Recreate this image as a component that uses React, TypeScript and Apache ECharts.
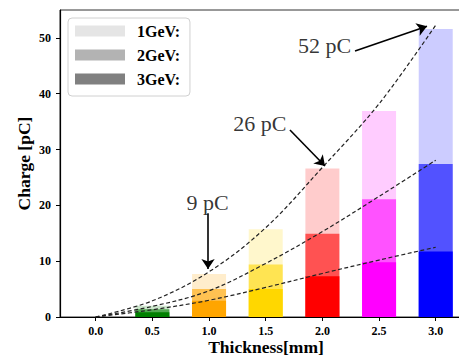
import React, { useEffect, useRef } from "react";
import * as echarts from "echarts";

const thickness = [0.5, 1.0, 1.5, 2.0, 2.5, 3.0];
const charge1GeV = [2.0, 7.7, 15.7, 26.6, 36.9, 51.6];
const charge2GeV = [1.4, 5.0, 9.4, 14.9, 21.1, 27.4];
const charge3GeV = [0.85, 2.9, 5.0, 7.3, 9.8, 11.75];
const barColors = ["#008000", "#ffa500", "#ffd700", "#ff0000", "#ff00ff", "#0000ff"];

const fitX = [0, 0.5, 1.0, 1.5, 2.0, 2.5, 3.0];
const fit1GeV = [0, 2.9, 8.1, 16.0, 26.8, 38.2, 52.3];
const fit2GeV = [0, 1.9, 4.7, 9.6, 15.3, 21.6, 28.1];
const fit3GeV = [0, 1.3, 3.0, 5.3, 7.8, 10.2, 12.5];

const xTicks = [0, 0.5, 1.0, 1.5, 2.0, 2.5, 3.0];
const yTicks = [0, 10, 20, 30, 40, 50];

const annotationTexts = ["9 pC", "26 pC", "52 pC"];
const annotationTextPos = [
  [0.987, 20.6],
  [1.449, 34.75],
  [2.019, 48.7],
];
const arrowStart = [
  [0.991, 18.6],
  [1.714, 33.5],
  [2.288, 47.65],
];
const arrowEnd = [
  [0.991, 8.6],
  [2.023, 27.05],
  [2.923, 52.1],
];

const seriesNames = ["1GeV:", "2GeV:", "3GeV:"];
const legendGrays = ["#e5e5e5", "#b3b3b3", "#808080"];
const opacities = [0.2, 0.6, 1.0];

const SERIF = "Liberation Serif, Times New Roman, serif";

export default function App() {
  const ref = useRef<HTMLDivElement>(null);
  useEffect(() => {
    if (!ref.current) return;
    const chart = echarts.init(ref.current, undefined, { renderer: "svg" });
    const barValues = [charge1GeV, charge2GeV, charge3GeV];
    const bars = barValues.map((vals, si) => ({
      type: "bar",
      name: seriesNames[si],
      barWidth: 34,
      barGap: "-100%",
      silent: true,
      z: 2,
      itemStyle: { color: legendGrays[si] },
      data: vals.map((v, i) => ({
        value: [thickness[i], v],
        itemStyle: { color: barColors[i], opacity: opacities[si] },
      })),
    }));
    const fits = [fit1GeV, fit2GeV, fit3GeV].map((vals) => ({
      type: "line",
      smooth: 0.35,
      symbol: "none",
      silent: true,
      z: 5,
      lineStyle: { color: "#222", width: 1.2, type: [4, 2.5] },
      data: vals.map((v, i) => [fitX[i], v]),
    }));
    chart.setOption({
      animation: false,
      grid: {
        left: 60,
        right: -13,
        top: 10,
        bottom: 41,
        outerBoundsMode: "none",
        containLabel: false,
        show: true,
        borderColor: "#333",
        borderWidth: 1,
        backgroundColor: "transparent",
      },
      legend: {
        orient: "vertical",
        left: 68,
        top: 18,
        icon: "rect",
        itemWidth: 50,
        itemHeight: 11,
        itemGap: 8,
        padding: [5, 10, 9, 7],
        borderColor: "#d0d0d0",
        borderWidth: 1,
        borderRadius: 4,
        backgroundColor: "#ffffff",
        selectedMode: false,
        textStyle: {
          fontFamily: SERIF,
          fontWeight: "bold",
          fontSize: 16,
          lineHeight: 16,
          color: "#000",
          padding: [0, 0, 0, 7],
        },
        data: seriesNames.map((n, i) => ({
          name: n,
          itemStyle: { color: legendGrays[i], opacity: 1 },
        })),
      },
      xAxis: {
        type: "value",
        min: -0.315,
        max: 3.32,
        name: "Thickness[mm]",
        nameLocation: "middle",
        nameGap: 21,
        nameMoveOverlap: false,
        nameTextStyle: { fontFamily: SERIF, fontWeight: "bold", fontSize: 17.5, color: "#000" },
        axisLine: { show: true, onZero: false, lineStyle: { color: "#000", width: 1.2 } },
        axisTick: { show: true, length: 4, customValues: xTicks, lineStyle: { color: "#000" } },
        axisLabel: {
          customValues: xTicks,
          formatter: (v: number) => v.toFixed(1),
          fontFamily: SERIF,
          fontWeight: "bold",
          fontSize: 12,
          color: "#000",
          margin: 8,
        },
        splitLine: { show: false },
      },
      yAxis: {
        type: "value",
        min: 0,
        max: 55,
        name: "Charge [pC]",
        nameLocation: "middle",
        nameGap: 27,
        nameMoveOverlap: false,
        nameTextStyle: { fontFamily: SERIF, fontWeight: "bold", fontSize: 17.5, color: "#000" },
        axisLine: { show: true, onZero: false, lineStyle: { color: "#000", width: 1.2 } },
        axisTick: { show: true, length: 4, customValues: yTicks, lineStyle: { color: "#000" } },
        axisLabel: {
          customValues: yTicks,
          fontFamily: SERIF,
          fontWeight: "bold",
          fontSize: 12,
          color: "#000",
          margin: 9,
        },
        splitLine: { show: false },
      },
      series: [
        ...bars,
        ...fits,
        {
          type: "lines",
          coordinateSystem: "cartesian2d",
          silent: true,
          z: 6,
          symbol: ["none", "arrow"],
          symbolSize: 10,
          lineStyle: { color: "#000", width: 1.6, opacity: 1 },
          data: arrowStart.map((s, i) => ({ coords: [s, arrowEnd[i]] })),
        },
        {
          type: "scatter",
          silent: true,
          z: 7,
          symbolSize: 0.1,
          itemStyle: { color: "transparent" },
          label: {
            show: true,
            position: "inside",
            fontFamily: SERIF,
            fontSize: 22,
            color: "#000",
            formatter: (p: any) => annotationTexts[p.dataIndex],
          },
          data: annotationTextPos,
        },
      ],
    });
    return () => chart.dispose();
  }, []);
  return (
    <div
      ref={ref}
      style={{ position: "absolute", left: 0, top: 0, width: 459, height: 358, background: "#fff" }}
    />
  );
}
